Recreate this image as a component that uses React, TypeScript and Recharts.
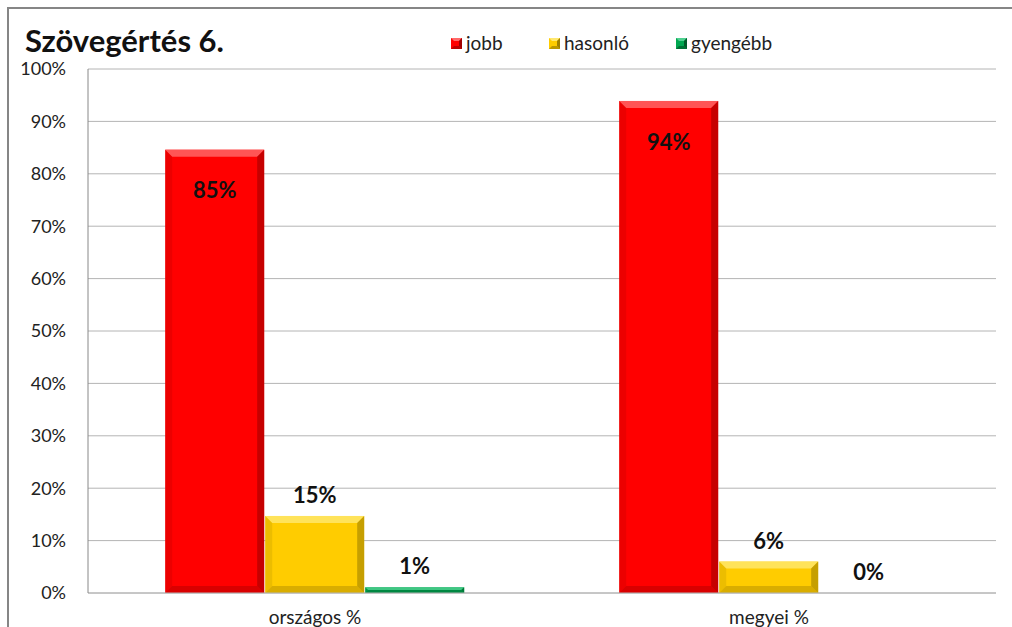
import React from 'react';
import { BarChart, Bar, XAxis, YAxis, CartesianGrid, LabelList } from 'recharts';

const categories = ['országos %', 'megyei %'];
const jobb = [84.6, 93.9];
const hasonlo = [14.7, 6.0];
const gyengebb = [1.1, 0];
const yTicks = [0, 10, 20, 30, 40, 50, 60, 70, 80, 90, 100];

const series = [
  { key: 'jobb', name: 'jobb', base: '#ff0000', light: '#ff6a6a', dark: '#a00000' },
  { key: 'hasonlo', name: 'hasonló', base: '#ffcc00', light: '#ffe870', dark: '#a08000' },
  { key: 'gyengebb', name: 'gyengébb', base: '#00a650', light: '#50d090', dark: '#005a2a' },
];

const data = categories.map((c, i) => ({
  name: c,
  jobb: jobb[i],
  hasonlo: hasonlo[i],
  gyengebb: gyengebb[i],
}));

const FONT = 'Lato, "Open Sans", sans-serif';

function bevelShape(s: typeof series[number]) {
  return (props: any) => {
    const { x, y, width: w, height: h } = props;
    if (!h || h <= 0) return <g />;
    const b = Math.min(7, h / 2, w / 2);
    return (
      <g>
        <rect x={x} y={y} width={w} height={h} fill={s.base} />
        <polygon points={`${x},${y} ${x + w},${y} ${x + w - b},${y + b} ${x + b},${y + b}`} fill={s.light} opacity={0.8} />
        <polygon points={`${x},${y} ${x + b},${y + b} ${x + b},${y + h - b} ${x},${y + h}`} fill={s.dark} opacity={0.2} />
        <polygon points={`${x + w},${y} ${x + w - b},${y + b} ${x + w - b},${y + h - b} ${x + w},${y + h}`} fill={s.dark} opacity={0.6} />
        <polygon points={`${x},${y + h} ${x + b},${y + h - b} ${x + w - b},${y + h - b} ${x + w},${y + h}`} fill={s.dark} opacity={0.4} />
      </g>
    );
  };
}

const fmt = (v: any) => `${Math.round(Number(v))}%`;

function LegendBox() {
  const xs = [451, 549, 676];
  return (
    <>
      {series.map((s, i) => (
        <div key={s.key} style={{ position: 'absolute', left: xs[i], top: 31, display: 'flex', alignItems: 'center', fontFamily: FONT, fontSize: 19, color: '#222', lineHeight: '24px' }}>
          <svg width={11} height={11} style={{ marginRight: 4 }}>
            <rect x={0} y={0} width={11} height={11} fill={s.base} />
            <polygon points="0,0 11,0 8,3 3,3" fill={s.light} />
            <polygon points="11,0 8,3 8,8 11,11" fill={s.dark} />
            <polygon points="0,11 3,8 8,8 11,11" fill={s.dark} opacity={0.7} />
          </svg>
          <span>{s.name}</span>
        </div>
      ))}
    </>
  );
}

export default function App() {
  return (
    <div style={{ position: 'absolute', left: 0, top: 0, width: 1012, height: 627, overflow: 'hidden', background: '#fff' }}>
      <div style={{ position: 'absolute', left: 7, top: 7, width: 1100, height: 700, border: '2px solid #868686' }} />
      <div style={{ position: 'absolute', left: 25, top: 24, fontFamily: FONT, fontWeight: 700, fontSize: 31, color: '#111', lineHeight: '32px' }}>
        Szövegértés 6.
      </div>
      <LegendBox />
      <div style={{ position: 'absolute', left: 0, top: 0 }}>
        <BarChart
          width={1012}
          height={627}
          data={data}
          margin={{ top: 69, right: 16, left: 0, bottom: 0 }}
          barCategoryGap="17%"
          barGap={1}
        >
          <CartesianGrid vertical={false} stroke="#b4b4b4" />
          <XAxis
            dataKey="name"
            height={34}
            tickSize={0}
            tickMargin={18}
            axisLine={{ stroke: '#b4b4b4' }}
            tick={{ fill: '#222', fontSize: 19, fontFamily: FONT }}
          />
          <YAxis
            width={88}
            domain={[0, 100]}
            ticks={yTicks}
            tickFormatter={(v) => `${v}%`}
            tickSize={0}
            tickMargin={22}
            axisLine={{ stroke: '#888' }}
            tick={{ fill: '#222', fontSize: 18, fontFamily: FONT }}
            interval={0}
          />
          {series.map((s) => (
            <Bar key={s.key} dataKey={s.key} name={s.name} fill={s.base} shape={bevelShape(s)} isAnimationActive={false}>
              <LabelList
                dataKey={s.key}
                position={s.key === 'jobb' ? 'insideTop' : 'top'}
                offset={s.key === 'jobb' ? 33 : 13}
                formatter={fmt}
                style={{ fill: '#111', fontSize: 22, fontWeight: 700, fontFamily: FONT }}
              />
            </Bar>
          ))}
        </BarChart>
      </div>
    </div>
  );
}
